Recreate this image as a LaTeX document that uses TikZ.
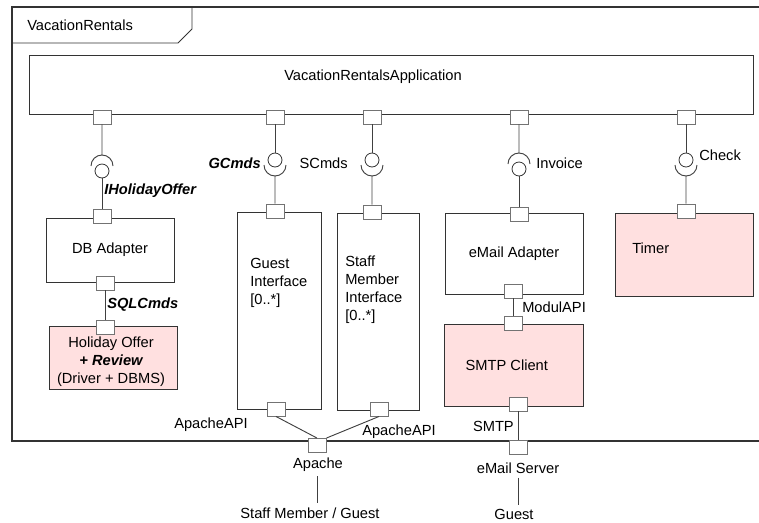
\documentclass[tikz,border=0pt]{standalone}
\usepackage{fontspec}
\setmainfont{Liberation Sans}
\definecolor{holipink}{RGB}{255,224,224}
\begin{document}
\begin{tikzpicture}[x=0.75pt, y=-0.75pt, font=\fontsize{11}{13.5}\selectfont,
	comp/.style={draw=black!80, fill=white, line width=0.7pt, inner sep=0pt},
	pinkcomp/.style={comp, fill=holipink},
	port/.style={draw=black!55, fill=white, line width=0.7pt, inner sep=0pt, minimum width=13.5pt, minimum height=10.5pt},
	ball/.style={circle, draw=black!80, fill=white, line width=0.6pt, inner sep=0pt, minimum size=10.5pt},
	wire/.style={draw=black!75, line width=0.7pt},
	txt/.style={inner sep=0pt},
	ext/.style={inner sep=3pt},
	bi/.style={font=\fontsize{11}{13.5}\selectfont\bfseries\itshape}]
	\useasboundingbox (0,0) rectangle (759,522);
	% Frame
	\draw[draw=black!80, line width=0.8pt] (759,7) -- (12,7) -- (12,441) -- (759,441);
	\draw[draw=black!80, line width=0.7pt] (12,43) -- (178,43) -- (192,29) -- (192,7);
	\node[txt, anchor = west] at (27, 25) (title) {VacationRentals};
	% Components
	\node[comp, minimum width=543pt, minimum height=44.25pt] at (391, 84.5) (app) {};
	\node[txt] at (373, 77) (appname) {VacationRentalsApplication};
	\node[comp, minimum width=96pt, minimum height=48pt] at (110, 250) (db) {DB Adapter};
	\node[pinkcomp, minimum width=96pt, minimum height=47.25pt] at (113, 358) (hol) {};
	\node[txt, align=center] at (111, 362) (holname) {Holiday Offer\\{\bfseries\itshape + Review}\\(Driver + DBMS)};
	\node[comp, minimum width=63pt, minimum height=147.75pt] at (279, 310.5) (gst) {};
	\node[txt, anchor = west, align=left] at (250, 283) (gstname) {Guest\\Interface\\{[0..*]}};
	\node[comp, minimum width=61.5pt, minimum height=147.75pt] at (378, 311.5) (stf) {};
	\node[txt, anchor = west, align=left] at (345, 290) (stfname) {Staff\\Member\\Interface\\{[0..*]}};
	\node[comp, minimum width=103.5pt, minimum height=60.75pt] at (514, 253.5) (eml) {eMail Adapter};
	\node[pinkcomp, minimum width=104.25pt, minimum height=61.5pt] at (513.5, 365) (smtp) {SMTP Client\hspace*{10pt}};
	\node[pinkcomp, minimum width=103.5pt, minimum height=62.25pt] at (684, 254.5) (tmr) {};
	\node[txt, anchor = west] at (632, 248) (tmrname) {Timer};
	% Ports
	\node[port] at (102, 117) (ap1) {};
	\node[port] at (275, 117) (ap2) {};
	\node[port] at (372, 117) (ap3) {};
	\node[port] at (519, 117) (ap4) {};
	\node[port] at (686, 117) (ap5) {};
	\node[port] at (102, 216) (dbt) {};
	\node[port] at (105, 283) (dbb) {};
	\node[port] at (105, 327) (holt) {};
	\node[port] at (275, 211) (gstt) {};
	\node[port] at (276, 409) (gstb) {};
	\node[port] at (372, 212) (stft) {};
	\node[port] at (379, 409) (stfb) {};
	\node[port] at (519, 214) (emlt) {};
	\node[port] at (513, 291) (emlb) {};
	\node[port] at (513, 323) (smtpt) {};
	\node[port] at (518, 404) (smtpb) {};
	\node[port] at (686, 211) (tmrt) {};
	\node[port] at (317, 445.5) (apc) {};
	\node[port] at (518, 447) (esv) {};
	% Provided / required interfaces
	\node[ball] at (102, 171) (b1) {};
	\coordinate (s1) at (102, 155);
	\draw[wire] (ap1.south) -- (s1) arc[start angle=270, end angle=180, radius=11];
	\draw[wire] (s1) arc[start angle=270, end angle=360, radius=11];
	\draw[wire] (b1.south) -- (dbt.north);
	\node[ball] at (275, 160) (b2) {};
	\coordinate (s2) at (275, 176);
	\draw[wire] (ap2.south) -- (b2.north);
	\draw[wire] (gstt.north) -- (s2) arc[start angle=90, end angle=0, radius=11];
	\draw[wire] (s2) arc[start angle=90, end angle=180, radius=11];
	\node[ball] at (372, 160) (b3) {};
	\coordinate (s3) at (372, 176);
	\draw[wire] (ap3.south) -- (b3.north);
	\draw[wire] (stft.north) -- (s3) arc[start angle=90, end angle=0, radius=11];
	\draw[wire] (s3) arc[start angle=90, end angle=180, radius=11];
	\node[ball] at (519, 169) (b4) {};
	\coordinate (s4) at (519, 153);
	\draw[wire] (ap4.south) -- (s4) arc[start angle=270, end angle=180, radius=11];
	\draw[wire] (s4) arc[start angle=270, end angle=360, radius=11];
	\draw[wire] (b4.south) -- (emlt.north);
	\node[ball] at (686, 160) (b5) {};
	\coordinate (s5) at (686, 176);
	\draw[wire] (ap5.south) -- (b5.north);
	\draw[wire] (tmrt.north) -- (s5) arc[start angle=90, end angle=0, radius=11];
	\draw[wire] (s5) arc[start angle=90, end angle=180, radius=11];
	% Assembly links
	\draw[wire] (dbb.south) -- (holt.north);
	\draw[wire] (emlb.south) -- (smtpt.north);
	\draw[wire] (smtpb.south) -- (esv.north);
	\draw[wire] (gstb.south) -- (apc.north);
	\draw[wire] (stfb.south) -- (apc.north east);
	% Interface labels
	\node[txt, bi, anchor = west] at (104, 191) (iho) {IHolidayOffer};
	\node[txt, bi, anchor = east] at (261, 163) (gcm) {GCmds};
	\node[txt, anchor = east] at (348, 163) (scm) {SCmds};
	\node[txt, anchor = west] at (536, 163) (inv) {Invoice};
	\node[txt, anchor = west] at (699, 155) (chk) {Check};
	\node[txt, bi, anchor = west] at (107, 305) (sql) {SQLCmds};
	\node[txt, anchor = west] at (522, 307) (mod) {ModulAPI};
	\node[txt, anchor = west] at (174, 425) (apil) {ApacheAPI};
	\node[txt, anchor = west] at (362, 432) (apir) {ApacheAPI};
	\node[txt, anchor = east] at (514, 426) (smtpl) {SMTP};
	% Outside
	\node[ext] at (318, 465) (apache) {Apache};
	\node[ext] at (310, 513) (smg) {Staff Member / Guest};
	\node[ext] at (518, 468) (esrv) {eMail Server};
	\node[ext] at (514, 514) (gue) {Guest};
	\draw[wire] (apache.south -| apc) -- (smg.north -| apc);
	\draw[wire] (esrv.south -| esv) -- (gue.north -| esv);
\end{tikzpicture}
\end{document}
